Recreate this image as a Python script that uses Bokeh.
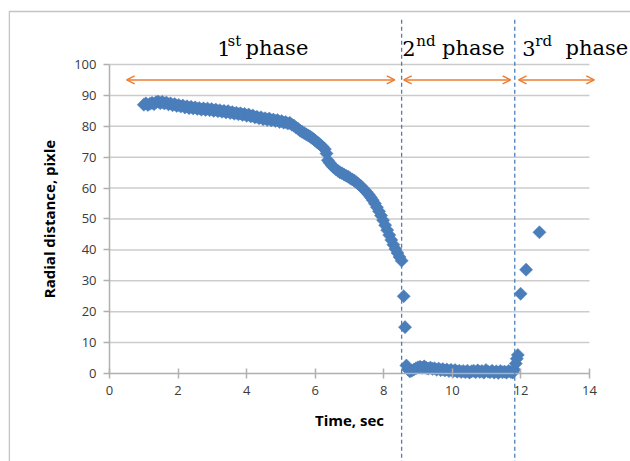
from bokeh.plotting import figure
from bokeh.models import Range1d, Arrow, OpenHead, Label, BoxAnnotation, FixedTicker, ColumnDataSource
from bokeh.embed import file_html
from bokeh.resources import INLINE
import numpy as np

# ---------------- data ----------------
t_phase1 = [1.00, 1.06, 1.12, 1.18, 1.24, 1.30, 1.36, 1.42, 1.48, 1.54, 1.60, 1.66, 1.72, 1.78, 1.84,
            1.90, 1.96, 2.02, 2.08, 2.14, 2.20, 2.26, 2.32, 2.38, 2.44, 2.50, 2.56, 2.62, 2.68, 2.74,
            2.80, 2.86, 2.92, 2.98, 3.04, 3.10, 3.16, 3.22, 3.28, 3.34, 3.40, 3.46, 3.52, 3.58, 3.64,
            3.70, 3.76, 3.82, 3.88, 3.94, 4.00, 4.06, 4.12, 4.18, 4.24, 4.30, 4.36, 4.42, 4.48, 4.54,
            4.60, 4.66, 4.72, 4.78, 4.84, 4.90, 4.96, 5.02, 5.08, 5.14, 5.20, 5.26, 5.32, 5.38, 5.44,
            5.50, 5.56, 5.62, 5.68, 5.74, 5.80, 5.86, 5.92, 5.98, 6.04, 6.10, 6.16, 6.22, 6.28, 6.33,
            6.37, 6.42, 6.48, 6.54, 6.60, 6.66, 6.72, 6.78, 6.84, 6.90, 6.96, 7.02, 7.08, 7.14, 7.20,
            7.26, 7.32, 7.38, 7.44, 7.50, 7.56, 7.62, 7.68, 7.74, 7.80, 7.86, 7.92, 7.98, 8.04, 8.10,
            8.16, 8.22, 8.28, 8.34, 8.40, 8.46, 8.52]
r_phase1 = [87.0, 87.4, 86.9, 87.3, 87.6, 87.2, 87.8, 88.0, 87.5, 87.9, 87.4, 87.7, 87.1, 87.4, 86.8,
            87.2, 86.6, 86.9, 86.4, 86.7, 86.1, 86.5, 85.9, 86.3, 85.8, 86.1, 85.6, 85.9, 85.4, 85.8,
            85.3, 85.7, 85.2, 85.6, 85.0, 85.4, 84.9, 85.2, 84.7, 85.0, 84.5, 84.9, 84.3, 84.6, 84.1,
            84.4, 83.9, 84.2, 83.7, 84.0, 83.4, 83.8, 83.2, 83.5, 82.9, 83.1, 82.6, 82.9, 82.3, 82.6,
            82.1, 82.5, 81.9, 82.2, 81.7, 82.0, 81.4, 81.7, 81.2, 81.4, 80.9, 81.1, 80.5, 80.2, 79.6,
            79.2, 78.6, 78.2, 77.8, 77.4, 77.0, 76.6, 76.1, 75.6, 75.0, 74.5, 73.9, 73.3, 72.6, 71.2,
            69.0, 68.2, 67.4, 66.7, 66.1, 65.6, 65.1, 64.8, 64.4, 64.0, 63.7, 63.2, 62.8, 62.4, 61.9,
            61.3, 60.8, 60.1, 59.4, 58.7, 57.9, 57.0, 56.1, 55.0, 53.8, 52.5, 51.1, 49.6, 48.0, 46.4,
            44.8, 43.2, 41.7, 40.3, 39.0, 37.7, 36.5]
t_phase2 = [8.58, 8.62, 8.66, 8.70, 8.76, 8.82, 8.88, 8.94, 9.00, 9.06, 9.12, 9.18, 9.24, 9.30, 9.36,
            9.42, 9.48, 9.54, 9.60, 9.66, 9.72, 9.78, 9.84, 9.90, 9.96, 10.02, 10.08, 10.14, 10.20,
            10.26, 10.32, 10.38, 10.44, 10.50, 10.56, 10.62, 10.68, 10.74, 10.80, 10.86, 10.92, 10.98,
            11.04, 11.10, 11.16, 11.22, 11.28, 11.34, 11.40, 11.46, 11.52, 11.58, 11.64, 11.70, 11.76,
            11.81, 11.85, 11.88, 11.91]
r_phase2 = [25.0, 15.0, 2.6, 1.4, 0.7, 0.9, 1.3, 1.7, 2.0, 2.2, 1.9, 2.3, 1.8, 1.6, 1.9,
            1.5, 1.7, 1.2, 1.6, 1.1, 1.4, 1.0, 1.3, 0.8, 1.2, 0.7, 1.1, 0.6, 0.9,
            0.5, 0.8, 0.4, 0.9, 0.3, 0.7, 0.9, 0.4, 1.0, 0.5, 0.8, 0.3, 1.1,
            0.6, 0.4, 0.9, 0.3, 0.7, 0.2, 0.8, 0.4, 0.6, 0.3, 0.8, 0.5, 0.3,
            1.2, 3.2, 4.8, 6.0]
t_phase3 = [11.99, 12.15, 12.54]
r_phase3 = [25.8, 33.6, 45.7]

x_ticks = [0, 2, 4, 6, 8, 10, 12, 14]
y_ticks = [0, 10, 20, 30, 40, 50, 60, 70, 80, 90, 100]
phase_bounds = [8.52, 11.82]
arrow_y = 95
arrow_spans = [(0.50, 8.32), (8.58, 11.70), (11.93, 14.14)]

BLUE = "#4a7ebb"
ORANGE = "#ed7d31"

# the frame covers the whole canvas; axes are pinned at 0 with bounds
p = figure(width=630, height=461, output_backend="svg", toolbar_location=None,
           x_range=Range1d(-3.1792, 15.1958), y_range=Range1d(-28.479, 120.712),
           min_border=0, min_border_left=0, min_border_right=0,
           min_border_top=0, min_border_bottom=0)
p.outline_line_color = None
p.background_fill_color = "white"
p.border_fill_color = "white"
p.xgrid.visible = False
p.ygrid.visible = False

# horizontal gridlines across the plotting area (0..14)
grid_y = y_ticks[1:]
p.segment(x0=[x_ticks[0]] * len(grid_y), x1=[x_ticks[-1]] * len(grid_y), y0=grid_y, y1=grid_y,
          line_color="#cccccc", line_width=1.5)

# axes
xa = p.xaxis[0]
ya = p.yaxis[0]
xa.fixed_location = 0
ya.fixed_location = 0
xa.bounds = (x_ticks[0], x_ticks[-1])
ya.bounds = (y_ticks[0], y_ticks[-1])
xa.ticker = FixedTicker(ticks=x_ticks)
ya.ticker = FixedTicker(ticks=y_ticks)
for ax in (xa, ya):
    ax.axis_line_color = "#b0b0b0"
    ax.axis_line_width = 1.5
    ax.major_tick_line_color = "#b0b0b0"
    ax.major_tick_line_width = 1.5
    ax.minor_tick_line_color = None
    ax.major_label_text_font = "Open Sans"
    ax.major_label_text_font_size = "13px"
    ax.major_label_text_color = "#3a3a3a"
    ax.axis_label_text_font = "Open Sans"
    ax.axis_label_text_font_size = "15px"
    ax.axis_label_text_font_style = "bold"
    ax.axis_label_text_color = "#000000"
xa.major_tick_in = 5
xa.major_tick_out = 5
ya.major_tick_in = 0
ya.major_tick_out = 6
xa.major_label_standoff = 8
ya.major_label_standoff = 7
xa.axis_label = "Time, sec"
ya.axis_label = "Radial distance, pixle"
xa.axis_label_standoff = 11
ya.axis_label_standoff = 12

# data points (Excel-like diamonds)
for tx, ry in ((t_phase1, r_phase1), (t_phase2, r_phase2), (t_phase3, r_phase3)):
    src = ColumnDataSource(dict(x=tx, y=ry))
    p.scatter("x", "y", source=src, marker="square", angle=np.pi / 4, size=9.3,
              fill_color=BLUE, line_color=BLUE, line_width=0.5)

# outer border (left/top visible)
p.add_layout(BoxAnnotation(left=-2.92, right=30, top=117.15, bottom=-80,
                           fill_alpha=0, line_color="#3a3a3a", line_width=1.3))

# dashed phase boundaries
for xb in phase_bounds:
    p.add_layout(Arrow(x_start=xb, y_start=114.5, x_end=xb, y_end=-40, start=None, end=None,
                       line_color=BLUE, line_width=1.3, line_dash="4 3"))

# orange double arrows
for a, b in arrow_spans:
    p.add_layout(Arrow(x_start=a, y_start=arrow_y, x_end=b, y_end=arrow_y,
                       start=OpenHead(size=8, line_color=ORANGE, line_width=1.5),
                       end=OpenHead(size=8, line_color=ORANGE, line_width=1.5),
                       line_color=ORANGE, line_width=1.5))

# phase titles
SERIF = "DejaVu Serif"
base_y = 105.2
sup_y = 107.6
titles = [(3.14, "1", 3.44, "st", 3.97), (8.54, "2", 8.95, "nd", 9.70), (12.04, "3", 12.42, "rd", 13.30)]
for xn, num, xs, sup, xp in titles:
    p.add_layout(Label(x=xn, y=base_y, text=num, text_font=SERIF, text_font_size="21px",
                       text_baseline="alphabetic", text_color="black"))
    p.add_layout(Label(x=xs, y=sup_y, text=sup, text_font=SERIF, text_font_size="15px",
                       text_baseline="alphabetic", text_color="black"))
    p.add_layout(Label(x=xp, y=base_y, text="phase", text_font=SERIF, text_font_size="21px",
                       text_baseline="alphabetic", text_color="black"))

open("out.html", "w").write(file_html(p, INLINE))
